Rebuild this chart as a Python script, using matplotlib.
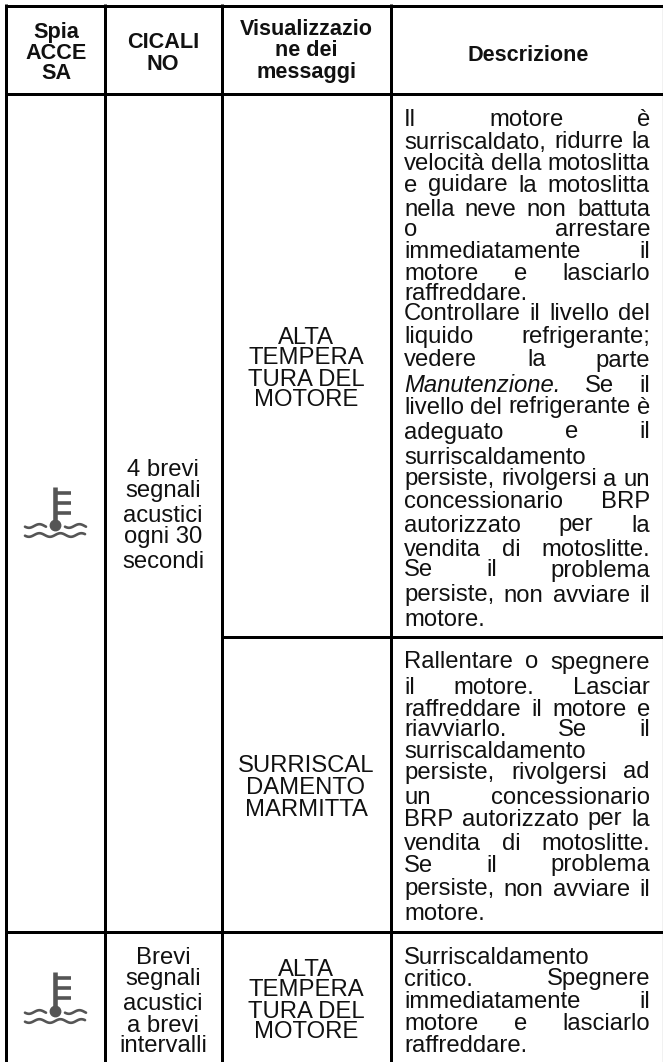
import matplotlib
matplotlib.use("Agg")
import matplotlib.pyplot as plt
import numpy as np

W, H = 663, 1062
FONT = "Liberation Sans"
BODY = 17.2
HEAD = 15.6
INK = "#111111"

# header cells
head_lines = [["Spia", "ACCE", "SA"], ["CICALI", "NO"],
              ["Visualizzazio", "ne dei", "messaggi"], ["Descrizione"]]
head_y = [[30, 51, 71], [40, 62], [27, 48, 70], [53]]
col_x = [56, 163, 306, 528]

# centred cells
cicalino_1 = ["4 brevi", "segnali", "acustici", "ogni 30", "secondi"]
cicalino_1_y = [468, 489, 514, 535, 559]
cicalino_2 = ["Brevi", "segnali", "acustici", "a brevi", "intervalli"]
cicalino_2_y = [956, 977, 1002, 1023, 1043]
msg_alta = ["ALTA", "TEMPERA", "TURA DEL", "MOTORE"]
msg_alta_y = [335, 356, 377, 398]
msg_alta2_y = [968, 988, 1010, 1030]
msg_surr = ["SURRISCAL", "DAMENTO", "MARMITTA"]
msg_surr_y = [763, 785, 807]

# description lines, True = justified
descr_1 = [("Il motore è", True), ("surriscaldato, ridurre la", True),
           ("velocità della motoslitta", True), ("e guidare la motoslitta", True),
           ("nella neve non battuta", True), ("o arrestare", True),
           ("immediatamente il", True), ("motore e lasciarlo", True),
           ("raffreddare.", False), ("Controllare il livello del", True),
           ("liquido refrigerante;", True), ("vedere la parte", True),
           ("Manutenzione. Se il", True), ("livello del refrigerante è", True),
           ("adeguato e il", True), ("surriscaldamento", False),
           ("persiste, rivolgersi a un", True), ("concessionario BRP", True),
           ("autorizzato per la", True), ("vendita di motoslitte.", True),
           ("Se il problema", True), ("persiste, non avviare il", True),
           ("motore.", False)]
descr_1_y = [118, 140, 162, 183, 207, 228, 250, 272, 292, 312, 335, 358, 383,
             405, 430, 455, 477, 500, 523, 547, 568, 593, 617]
descr_2 = [("Rallentare o spegnere", True), ("il motore. Lasciar", True),
           ("raffreddare il motore e", True), ("riavviarlo. Se il", True),
           ("surriscaldamento", False), ("persiste, rivolgersi ad", True),
           ("un concessionario", True), ("BRP autorizzato per la", True),
           ("vendita di motoslitte.", True), ("Se il problema", True),
           ("persiste, non avviare il", True), ("motore.", False)]
descr_2_y = [660, 685, 707, 728, 750, 770, 795, 817, 842, 863, 887, 912]
descr_3 = [("Surriscaldamento", False), ("critico. Spegnere", True),
           ("immediatamente il", True), ("motore e lasciarlo", True),
           ("raffreddare.", False)]
descr_3_y = [956, 977, 1000, 1022, 1043]

DESC_L, DESC_R = 404, 650

fig = plt.figure(figsize=(W / 100, H / 100), dpi=100)
ax = fig.add_axes([0, 0, 1, 1])
ax.set_xlim(0, W)
ax.set_ylim(H, 0)
ax.axis("off")
rend = fig.canvas.get_renderer()


def put(x, y, s, ha="center", size=BODY, weight="normal", style="normal"):
    return ax.text(x, y, s, ha=ha, va="center_baseline", family=FONT, fontsize=size,
                   weight=weight, style=style, color=INK)


def justified(lines, ys):
    for (line, just), y in zip(lines, ys):
        if not just:
            put(DESC_L, y, line, ha="left")
            continue
        words = line.split(" ")
        styles = ["italic" if w.startswith("Manutenzione") else "normal" for w in words]
        # measure the words so the gaps can be stretched to the cell width
        widths = []
        for w, st in zip(words, styles):
            t = put(0, 0, w, ha="left", style=st)
            widths.append(t.get_window_extent(rend).width)
            t.remove()
        gap = (DESC_R - DESC_L - sum(widths)) / (len(words) - 1)
        x = DESC_L
        for w, st, wd in zip(words, styles, widths):
            put(x, y, w, ha="left", style=st)
            x += wd + gap


def thermometer(top, bulb):
    grey = "#555555"
    ax.plot([55, 55], [top, bulb], color=grey, lw=3.3, solid_capstyle="butt")
    for k in range(3):
        yy = top + 6 + k * 10
        ax.plot([55, 71], [yy, yy], color=grey, lw=2.6, solid_capstyle="butt")
    ax.plot([55], [bulb], "o", color=grey, ms=7.5)
    # wave glyphs
    for a, b, yy in [(25, 46, bulb + 1), (65, 86, bulb + 1), (25, 85, bulb + 10)]:
        xs = np.linspace(a, b, 60)
        ax.plot(xs, yy + 1.8 * np.sin((xs - a) / 21 * 2 * np.pi * 1.0 + 0.4),
                color=grey, lw=1.9, solid_capstyle="round")


# grid
LW = 3 * 72 / 100
black = "#000000"
for y in [5.5, 94, 932]:
    ax.plot([4.5, W], [y, y], color=black, lw=LW, solid_capstyle="butt")
ax.plot([222, W], [636.5, 636.5], color=black, lw=LW, solid_capstyle="butt")
for x in [6, 104.5, 222, 390.5]:
    ax.plot([x, x], [4, H], color=black, lw=LW, solid_capstyle="butt")
ax.plot([662.5, 662.5], [4, H], color=black, lw=0.8, solid_capstyle="butt")

# text
for lines, ys, x in zip(head_lines, head_y, col_x):
    for s, y in zip(lines, ys):
        put(x, y, s, size=HEAD, weight="bold")
for lines, ys, x in [(cicalino_1, cicalino_1_y, 163), (cicalino_2, cicalino_2_y, 163),
                     (msg_alta, msg_alta_y, 306), (msg_alta, msg_alta2_y, 306),
                     (msg_surr, msg_surr_y, 306)]:
    for s, y in zip(lines, ys):
        put(x, y, s)
justified(descr_1, descr_1_y)
justified(descr_2, descr_2_y)
justified(descr_3, descr_3_y)

thermometer(487, 525)
thermometer(972, 1011)

fig.savefig("out.png", dpi=100)
